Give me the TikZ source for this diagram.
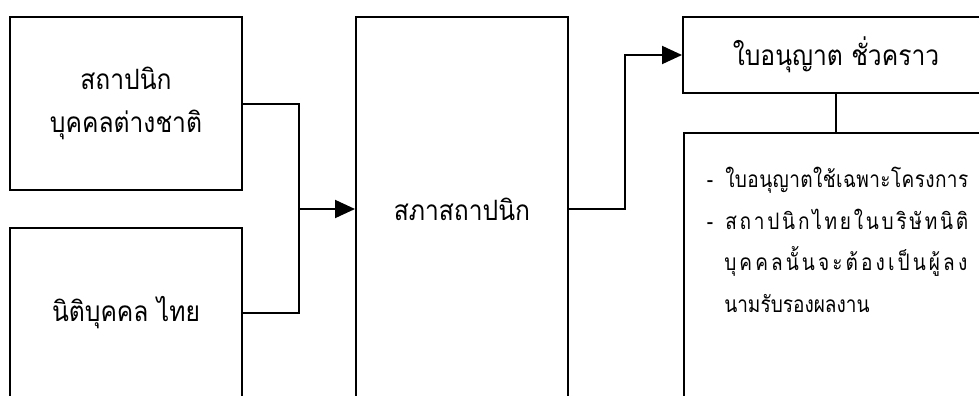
\documentclass[tikz,border=0pt]{standalone}
\usepackage{fontspec}
\newfontfamily\thaifont[Script=Thai,FakeStretch=0.88]{Loma}
\newfontfamily\thailist[Script=Thai,FakeStretch=0.84]{Loma}
\usetikzlibrary{arrows.meta}
\newcommand\justline[1]{\hbox to 182.25pt{#1}}
\begin{document}
\begin{tikzpicture}[x=0.75pt,y=-0.75pt,
  box/.style={draw,line width=1.5pt,rectangle,inner sep=0pt,align=center,
    font=\thaifont\fontsize{21}{32}\selectfont},
  conn/.style={line width=1.5pt},
  arr/.style={line width=1.5pt,-{Triangle[length=15pt,width=13.5pt]}},
  txt/.style={inner sep=0pt,anchor=base west,font=\thailist\fontsize{17}{20}\selectfont}]
\useasboundingbox (0,0) rectangle (979,396);
\clip (0,0) rectangle (979,396);
\fill[white] (0,0) rectangle (979,396);
\node[box,minimum width=174pt,minimum height=129.75pt] (box1) at (126,103.5) {สถาปนิก\\บุคคลต่างชาติ};
\node[box,minimum width=174pt,minimum height=127.5pt] (box2) at (126,313) {นิติบุคคล ไทย};
\node[box,minimum width=159pt,minimum height=288pt] (box3) at (462,209) {สภาสถาปนิก};
\node[box,minimum width=229.5pt,minimum height=57pt] (box4) at (836,55) {ใบอนุญาต ชั่วคราว};
\node[box,minimum width=229.5pt,minimum height=300pt,anchor=north west] (box5) at (683,132) {};
\node[txt] (l1) at (725,187) {\llap{-\hspace{9pt}}\justline{ใ\hfill บ\hfill อ\hfill นุ\hfill ญ\hfill า\hfill ต\hfill ใ\hfill ช้\hfill เ\hfill ฉ\hfill พ\hfill า\hfill ะ\hfill โ\hfill ค\hfill ร\hfill ง\hfill ก\hfill า\hfill ร}};
\node[txt] (l2) at (725,229) {\llap{-\hspace{9pt}}\justline{ส\hfill ถ\hfill า\hfill ป\hfill นิ\hfill ก\hfill ไ\hfill ท\hfill ย\hfill ใ\hfill น\hfill บ\hfill ริ\hfill ษั\hfill ท\hfill นิ\hfill ติ}};
\node[txt] (l3) at (724,270) {\justline{บุ\hfill ค\hfill ค\hfill ล\hfill นั้\hfill น\hfill จ\hfill ะ\hfill ต้\hfill อ\hfill ง\hfill เ\hfill ป็\hfill น\hfill ผู้\hfill ล\hfill ง}};
\node[txt] (l4) at (724,312) {นามรับรองผลงาน};
\coordinate (j) at (299,209);
\coordinate (k) at (625,55);
\draw[conn] (box1.east) -| (j) |- (box2.east);
\draw[arr] (j) -- (box3.west);
\draw[arr] (box3.east) -| (k) -- (box4.west);
\draw[conn] (box4.south) -- (box4.south |- box5.north);
\end{tikzpicture}
\end{document}
